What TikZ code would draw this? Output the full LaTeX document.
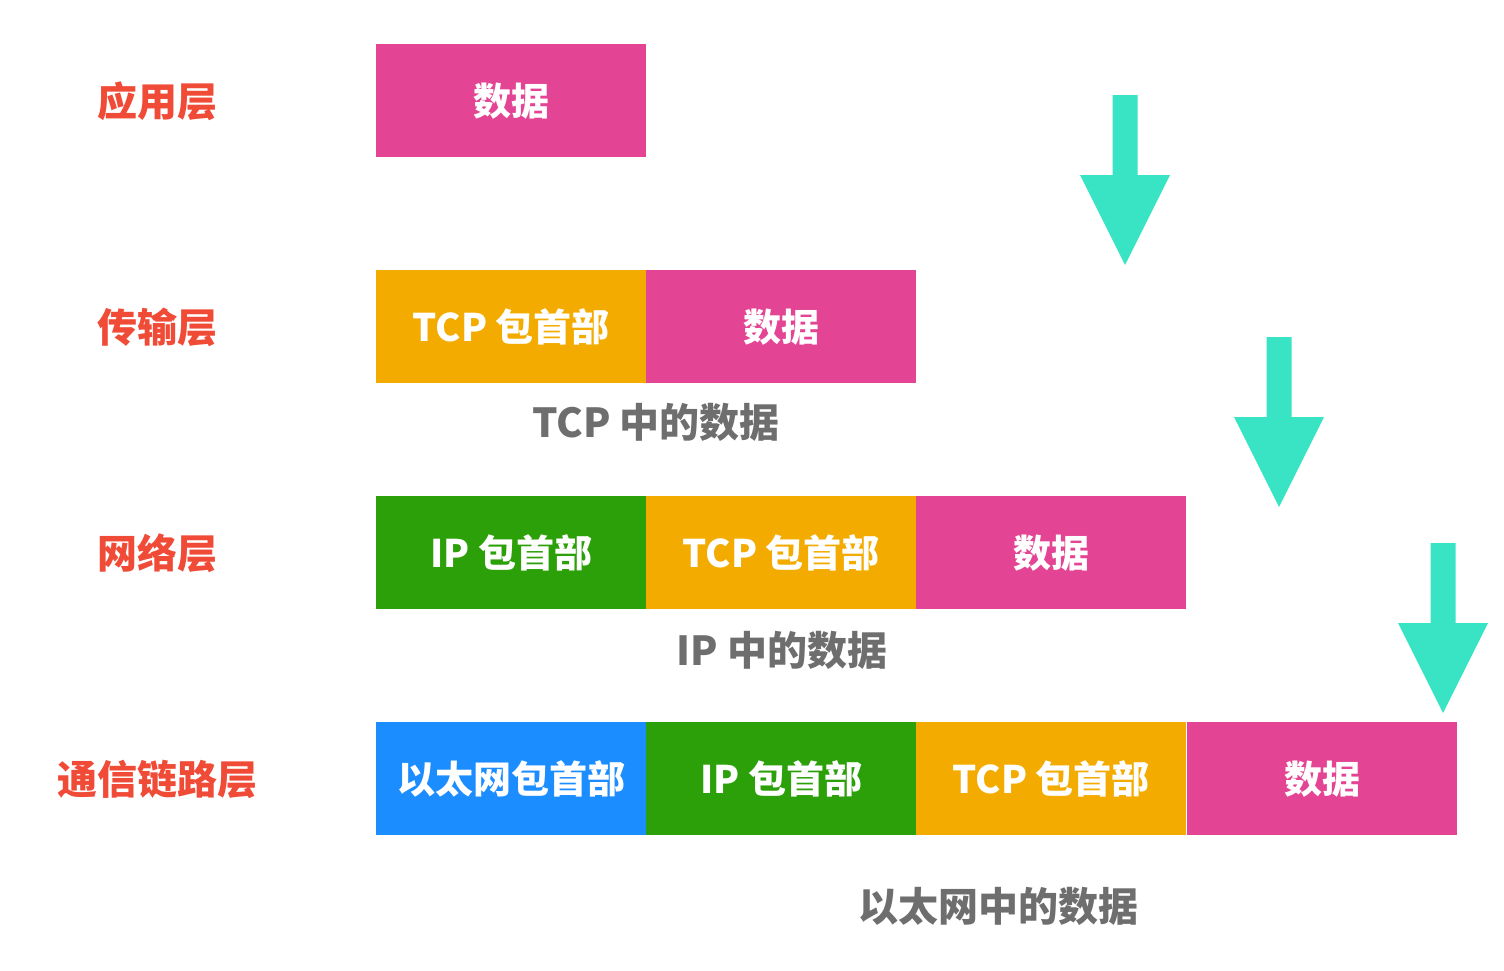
\documentclass[tikz,border=0pt]{standalone}
\usepackage{fontspec}
\setmainfont{Noto Sans CJK SC}
\definecolor{layerred}{RGB}{240,75,55}
\definecolor{datapink}{RGB}{228,68,148}
\definecolor{tcporange}{RGB}{243,171,0}
\definecolor{ipgreen}{RGB}{44,160,8}
\definecolor{ethblue}{RGB}{27,141,255}
\definecolor{arrowcyan}{RGB}{56,228,196}
\definecolor{capgray}{RGB}{110,110,110}
\tikzset{
  pkt/.style={minimum width=270pt,minimum height=113pt,inner sep=0pt,anchor=north west,text=white,font=\fontsize{38}{40}\selectfont\bfseries},
  layer/.style={text=layerred,font=\fontsize{40}{42}\selectfont\bfseries},
  caption/.style={text=capgray,font=\fontsize{40}{42}\selectfont\bfseries},
  down/.style={fill=arrowcyan}
}
\newcommand{\layerarrow}[3]{% center x, top y, tip y
  \fill[down] (#1-12.5,#2) -- (#1+12.5,#2) -- (#1+12.5,#3-90) -- (#1+45,#3-90) -- (#1,#3) -- (#1-45,#3-90) -- (#1-12.5,#3-90) -- cycle;}
\begin{document}
\begin{tikzpicture}[x=1pt,y=-1pt]
  \useasboundingbox (0,0) rectangle (1504,970);
  % layer names
  \node[layer] (app) at (157,101) {应用层};
  \node[layer] (tra) at (157,327) {传输层};
  \node[layer] (net) at (157,553) {网络层};
  \node[layer] (lnk) at (157,779) {通信链路层};
  % packets
  \node[pkt,fill=datapink] (d1) at (376,44) {数据};
  \node[pkt,fill=tcporange] (t2) at (376,270) {TCP 包首部};
  \node[pkt,fill=datapink] (d2) at (646,270) {数据};
  \node[pkt,fill=ipgreen] (i3) at (376,496) {IP 包首部};
  \node[pkt,fill=tcporange] (t3) at (646,496) {TCP 包首部};
  \node[pkt,fill=datapink] (d3) at (916,496) {数据};
  \node[pkt,fill=ethblue] (e4) at (376,722) {以太网包首部};
  \node[pkt,fill=ipgreen] (i4) at (646,722) {IP 包首部};
  \node[pkt,fill=tcporange] (t4) at (916,722) {TCP 包首部};
  \node[pkt,fill=datapink] (d4) at (1187,722) {数据};
  % captions
  \node[caption] (ctcp) at (656,422) {TCP 中的数据};
  \node[caption] (cip) at (782,650) {IP 中的数据};
  \node[caption] (ceth) at (998,906) {以太网中的数据};
  % arrows
  \layerarrow{1125}{95}{265}
  \layerarrow{1279}{337}{507}
  \layerarrow{1443}{543}{713}
\end{tikzpicture}
\end{document}
